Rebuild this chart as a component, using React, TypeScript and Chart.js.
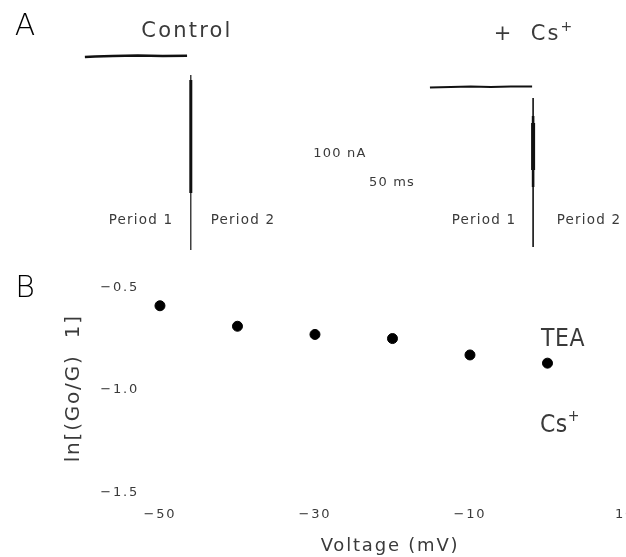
import React, { useEffect, useRef } from "react";
import { Chart, registerables } from "chart.js";
Chart.register(...registerables);

// ---------- Panel B data ----------
const voltages = [-50, -40, -30, -20, -10, 0];
const teaValues = [-0.59, -0.69, -0.73, -0.75, -0.83, -0.87];
const xTicks = [-50, -30, -10, 10];
const yTicks = [-0.5, -1.0, -1.5];

// ---------- Panel A traces (time in ms, current in nA) ----------
const controlHoldT = [33.9, 38, 45, 55, 65, 74.7];
const controlHoldI = [-1, -0.5, 0, 0.5, 0, 0.3];
const controlTailT = [76.2, 76.2];
const controlTailI = [-19, -194];
const controlTailCoreI = [-24, -137];
const csHoldT = [171.7, 180, 188, 196, 204, 212.5];
const csHoldI = [-31.5, -31, -30.5, -31, -30.5, -30.5];
const csTailT = [212.9, 212.9];
const csTailI = [-42, -191];
const csTailMidI = [-60, -131];
const csTailCoreI = [-67, -114];

const FONT = "'DejaVu Sans', 'Liberation Sans', sans-serif";
const TEXT = "#3a3a3a";

const pts = (xs: number[], ys: number[]) => xs.map((x, i) => ({ x, y: ys[i] }));
const fmt = (v: number, d: number) => (v < 0 ? "\u2212" : "") + Math.abs(v).toFixed(d);

function Label(props: {
  x: number; y: number; size: number; ls?: number; color?: string; weight?: number; sy?: number; children: any;
}) {
  return (
    <div
      style={{
        position: "absolute",
        left: props.x,
        top: props.y,
        transform: `translate(-50%, -50%) scale(1, ${props.sy ?? 1})`,
        fontFamily: FONT,
        fontSize: props.size,
        fontWeight: props.weight ?? 400,
        letterSpacing: props.ls ?? 0,
        color: props.color ?? TEXT,
        whiteSpace: "nowrap",
        lineHeight: 1,
      }}
    >
      {props.children}
    </div>
  );
}

const spacingPlugin = {
  id: "letterSpacing",
  beforeUpdate(chart: any) {
    chart.ctx.letterSpacing = "1.8px";
  },
  beforeDraw(chart: any) {
    chart.ctx.letterSpacing = "1.8px";
  },
};

export default function App() {
  const refA = useRef<HTMLCanvasElement>(null);
  const refB = useRef<HTMLCanvasElement>(null);

  useEffect(() => {
    const line = (data: any[], w: number, color = "#111") => ({
      data,
      showLine: true,
      borderColor: color,
      backgroundColor: color,
      borderWidth: w,
      pointRadius: 0,
      fill: false,
    });
    const chartA = new Chart(refA.current!, {
      type: "scatter",
      data: {
        datasets: [
          line(pts(controlHoldT, controlHoldI), 2.5),
          line(pts(controlTailT, controlTailI), 1.2),
          line(pts(controlTailT, controlTailCoreI), 3),
          line(pts(csHoldT, csHoldI), 2),
          line(pts(csTailT, csTailI), 1.6),
          line(pts(csTailT, csTailMidI), 2.6),
          line(pts(csTailT, csTailCoreI), 4),
        ],
      },
      options: {
        responsive: false,
        animation: false,
        layout: { padding: 0, autoPadding: false },
        plugins: { legend: { display: false }, tooltip: { enabled: false } },
        scales: {
          x: { type: "linear", display: false, min: 0, max: 250 },
          y: { type: "linear", display: false, min: -204, max: 56 },
        },
      },
    });

    const tickFont = { family: FONT, size: 13 };
    const chartB = new Chart(refB.current!, {
      type: "scatter",
      data: {
        datasets: [
          {
            label: "TEA",
            data: pts(voltages, teaValues),
            pointRadius: 5,
            pointHoverRadius: 5,
            backgroundColor: "#000",
            borderColor: "#000",
            clip: false,
          },
        ],
      },
      plugins: [spacingPlugin],
      options: {
        responsive: false,
        animation: false,
        layout: { padding: { top: 24, left: 0, right: 0, bottom: 0 }, autoPadding: false },
        plugins: { legend: { display: false }, tooltip: { enabled: false } },
        scales: {
          x: {
            type: "linear",
            min: -50.77,
            max: 10.13,
            afterBuildTicks: (s: any) => {
              s.ticks = xTicks.map((v) => ({ value: v }));
            },
            afterFit: (s: any) => {
              s.height = 64.7;
              s.paddingRight = 0;
              s.paddingLeft = 0;
            },
            grid: { display: false, drawTicks: false },
            border: { display: false },
            ticks: {
              padding: 14.5,
              font: tickFont,
              color: TEXT,
              maxRotation: 0,
              autoSkip: false,
              callback: (v: any) => fmt(Number(v), 0),
            },
            title: {
              display: true,
              text: "Voltage (mV)",
              font: { family: FONT, size: 18 },
              color: TEXT,
              padding: { top: 0, bottom: 0 },
            },
          },
          y: {
            type: "linear",
            min: -1.5,
            max: -0.4839,
            afterBuildTicks: (s: any) => {
              s.ticks = yTicks.map((v) => ({ value: v }));
            },
            afterFit: (s: any) => {
              s.width = 154;
            },
            grid: { display: false, drawTicks: false },
            border: { display: false },
            ticks: {
              padding: 15,
              font: tickFont,
              color: TEXT,
              autoSkip: false,
              callback: (v: any) => fmt(Number(v), 1),
            },
            title: {
              display: true,
              text: "ln[(Go/G)  1]",
              font: { family: FONT, size: 20 },
              color: TEXT,
              padding: { top: 62, bottom: 0 },
            },
          },
        },
      },
    });
    return () => {
      chartA.destroy();
      chartB.destroy();
    };
  }, []);

  const sup = { fontSize: 14, verticalAlign: "9px" } as const;

  return (
    <div
      style={{
        position: "absolute",
        left: 0,
        top: 0,
        width: 626,
        height: 557,
        overflow: "hidden",
        background: "#fff",
      }}
    >
      <canvas ref={refA} width={626} height={260} style={{ position: "absolute", left: 0, top: 0 }} />
      <canvas ref={refB} width={626} height={297} style={{ position: "absolute", left: 0, top: 260 }} />

      <Label x={25} y={25} size={30} color="#000" weight={300}>A</Label>
      <Label x={187} y={30} size={21} ls={2.2}>Control</Label>
      <Label x={534} y={31} size={21} ls={2}>
        +&nbsp;&nbsp;Cs<sup style={sup}>+</sup>
      </Label>
      <Label x={340} y={152} size={13} ls={1.2}>100 nA</Label>
      <Label x={392} y={181} size={13} ls={1.2}>50 ms</Label>
      <Label x={141} y={220} size={13.5} ls={1.2}>Period 1</Label>
      <Label x={243} y={220} size={13.5} ls={1.2}>Period 2</Label>
      <Label x={484} y={220} size={13.5} ls={1.2}>Period 1</Label>
      <Label x={589} y={220} size={13.5} ls={1.2}>Period 2</Label>

      <Label x={25} y={287} size={30} color="#000" weight={300}>B</Label>
      <Label x={563} y={338} size={22} ls={0.5} sy={1.15}>TEA</Label>
      <Label x={560} y={422} size={22} ls={0.5} sy={1.15}>
        Cs<sup style={sup}>+</sup>
      </Label>
    </div>
  );
}
